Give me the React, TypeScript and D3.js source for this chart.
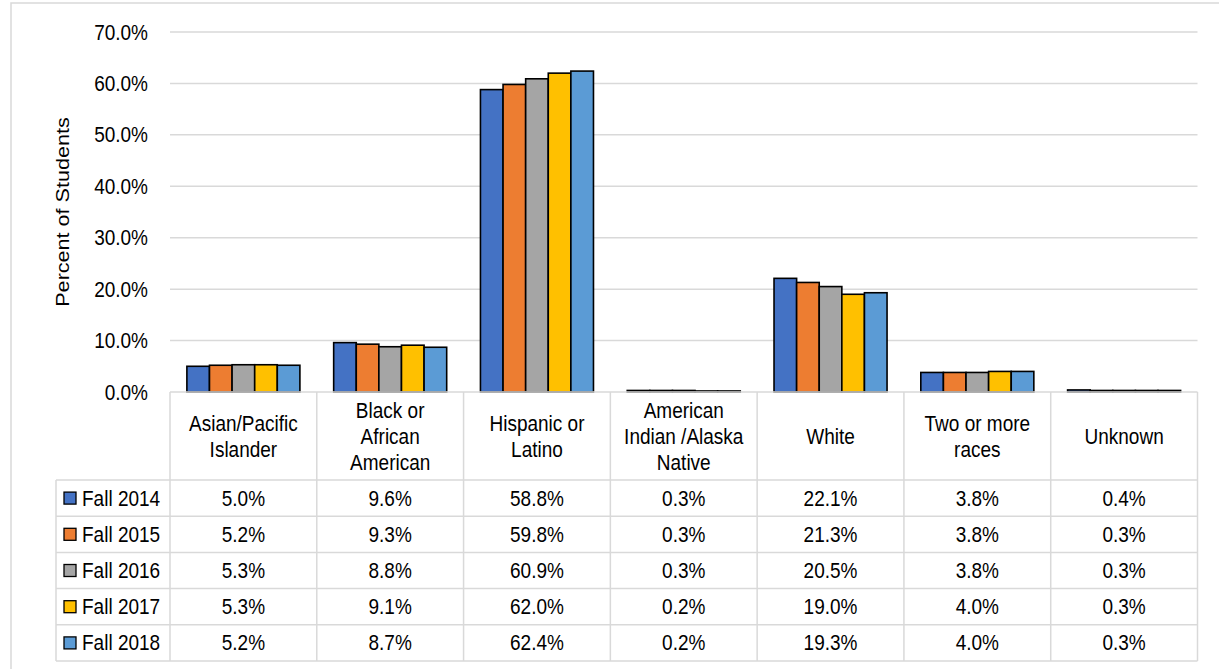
import React from "react";
import * as d3 from "d3";

const categories = [
  ["Asian/Pacific", "Islander"],
  ["Black or", "African", "American"],
  ["Hispanic or", "Latino"],
  ["American", "Indian /Alaska", "Native"],
  ["White"],
  ["Two or more", "races"],
  ["Unknown"],
];
const seriesNames = ["Fall 2014", "Fall 2015", "Fall 2016", "Fall 2017", "Fall 2018"];
const colors = ["#4472C4", "#ED7D31", "#A5A5A5", "#FFC000", "#5B9BD5"];
const fall2014 = [5.0, 9.6, 58.8, 0.3, 22.1, 3.8, 0.4];
const fall2015 = [5.2, 9.3, 59.8, 0.3, 21.3, 3.8, 0.3];
const fall2016 = [5.3, 8.8, 60.9, 0.3, 20.5, 3.8, 0.3];
const fall2017 = [5.3, 9.1, 62.0, 0.2, 19.0, 4.0, 0.3];
const fall2018 = [5.2, 8.7, 62.4, 0.2, 19.3, 4.0, 0.3];
const seriesValues = [fall2014, fall2015, fall2016, fall2017, fall2018];
const yTicks = [0, 10, 20, 30, 40, 50, 60, 70];

const W = 1219;
const H = 669;
const plotLeft = 170;
const plotRight = 1197.5;
const plotTop = 32;
const plotBottom = 392;
const headerBottom = 480;
const rowH = 36.2;
const legendLeft = 56;
const FONT = "'Liberation Sans', Arial, sans-serif";
const FS = 21.6;
const SX = 0.88;
const grid = "#D9D9D9";

function T({ x, y, anchor = "start", children }: { x: number; y: number; anchor?: string; children: any }) {
  return (
    <text
      transform={`translate(${x},${y}) scale(${SX},1)`}
      dy="0.35em"
      textAnchor={anchor}
      fontSize={FS}
      fill="#000"
    >
      {children}
    </text>
  );
}

export default function App() {
  const catIdx = categories.map((_, i) => String(i));
  const x0 = d3.scaleBand().domain(catIdx).range([plotLeft, plotRight]).padding(0);
  const bw = x0.bandwidth();
  const gap = bw * 0.23;
  const x1 = d3.scaleBand().domain(seriesNames).range([gap / 2, bw - gap / 2]).padding(0);
  const y = d3.scaleLinear().domain([0, 70]).range([plotBottom, plotTop]);
  const tableBottom = headerBottom + rowH * seriesNames.length;

  return (
    <svg width={W} height={H} style={{ position: "absolute", left: 0, top: 0 }} fontFamily={FONT}>
      <rect x={0} y={0} width={W} height={H} fill="#fff" />
      <rect x={11} y={3} width={W + 20} height={H + 20} fill="none" stroke={grid} strokeWidth={1.5} />
      {yTicks.map((t) => (
        <g key={t}>
          {t > 0 && (
            <line x1={plotLeft} x2={plotRight} y1={y(t)} y2={y(t)} stroke={grid} strokeWidth={1.5} />
          )}
          <T x={148} y={y(t)} anchor="end">
            {t.toFixed(1)}%
          </T>
        </g>
      ))}
      <text
        transform={`translate(62,${(plotTop + plotBottom) / 2}) rotate(-90) scale(1,${SX})`}
        textAnchor="middle"
        dy="0.35em"
        fontSize={FS}
        fill="#000"
      >
        Percent of Students
      </text>
      {catIdx.map((c, ci) => (
        <g key={c} transform={`translate(${x0(c)},0)`}>
          {seriesNames.map((s, si) => {
            const v = seriesValues[si][ci];
            return (
              <rect
                key={s}
                x={x1(s)}
                y={y(v)}
                width={x1.bandwidth()}
                height={y(0) - y(v)}
                fill={colors[si]}
                stroke="#000"
                strokeWidth={1.6}
              />
            );
          })}
        </g>
      ))}
      <g stroke={grid} strokeWidth={1.5} fill="none">
        <line x1={plotLeft} x2={plotRight} y1={plotBottom} y2={plotBottom} />
        {seriesNames.map((s, i) => (
          <line key={s} x1={legendLeft} x2={plotRight} y1={headerBottom + rowH * i} y2={headerBottom + rowH * i} />
        ))}
        <line x1={legendLeft} x2={plotRight} y1={tableBottom} y2={tableBottom} />
        <line x1={legendLeft} x2={legendLeft} y1={headerBottom} y2={tableBottom} />
        {catIdx.map((c) => (
          <line key={c} x1={x0(c)} x2={x0(c)} y1={plotBottom} y2={tableBottom} />
        ))}
        <line x1={plotRight} x2={plotRight} y1={plotBottom} y2={tableBottom} />
      </g>
      {categories.map((lines, ci) => {
        const cx = (x0(String(ci)) as number) + bw / 2;
        const cy = (plotBottom + headerBottom) / 2;
        const lh = 26;
        return (
          <g key={ci}>
            {lines.map((l, li) => (
              <T key={li} x={cx} y={cy + (li - (lines.length - 1) / 2) * lh} anchor="middle">
                {l}
              </T>
            ))}
          </g>
        );
      })}
      {seriesNames.map((s, si) => {
        const cy = headerBottom + rowH * si + rowH / 2;
        return (
          <g key={s}>
            <rect x={64} y={cy - 6} width={12} height={12} fill={colors[si]} stroke="#000" strokeWidth={1.3} />
            <T x={82} y={cy}>
              {s}
            </T>
            {seriesValues[si].map((v, ci) => (
              <T key={ci} x={(x0(String(ci)) as number) + bw / 2} y={cy} anchor="middle">
                {v.toFixed(1)}%
              </T>
            ))}
          </g>
        );
      })}
    </svg>
  );
}
